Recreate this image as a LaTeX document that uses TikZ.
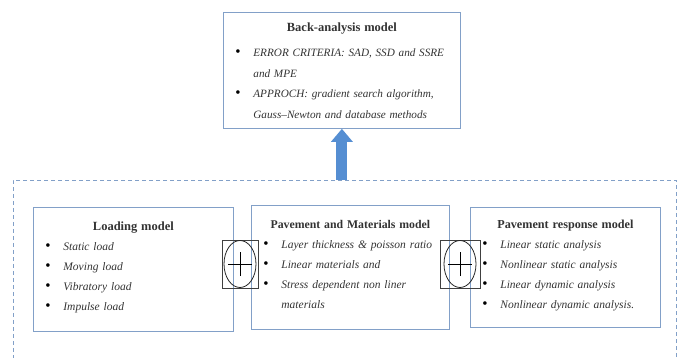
\documentclass[tikz,border=0pt]{standalone}
\usepackage{fontspec}
\setmainfont{Liberation Serif}
\usetikzlibrary{shapes.geometric,arrows.meta}
\definecolor{boxblue}{RGB}{130,160,200}
\definecolor{arrowblue}{RGB}{85,142,210}
\newcommand{\bul}[1]{\par\hangindent=18pt\hangafter=1\makebox[18pt][l]{\textcolor{black}{\fontsize{15}{20}\selectfont\textbullet}}\textit{#1}}
\newcommand{\ttl}[2][12.5]{\centering{\fontsize{#1}{20}\selectfont\textbf{#2}}\par\raggedright}
\tikzset{
    model/.style={draw=boxblue,thick,anchor=north west,align=left,inner xsep=12pt,
        font=\fontsize{11.5}{20}\selectfont,text=black!80},
    sumsq/.style={draw=black!75,minimum width=36pt,minimum height=48pt,inner sep=0pt},
    sumel/.style={draw=black!85,thick,ellipse,minimum width=32pt,minimum height=47pt,inner sep=0pt}
}
\begin{document}
\begin{tikzpicture}[x=1pt,y=-1pt]
    \useasboundingbox (0,0) rectangle (680,358);
    % dashed frame round the three models
    \node[draw=boxblue,thick,dash pattern=on 4pt off 3pt,minimum width=663pt,minimum height=200pt] (frame) at (344.5,280) {};
    % back-analysis model
    \node[model,font=\fontsize{11.2}{20.5}\selectfont,text width=213pt,minimum height=116pt] (back) at (223,12) {%
        \vspace{5pt}\ttl{Back-analysis model}
        \bul{ERROR CRITERIA: SAD, SSD and SSRE and MPE}
        \bul{APPROCH: gradient search algorithm, Gauss--Newton and database methods}\par};
    % the three models
    \node[model,text width=176pt,minimum height=124pt] (load) at (33,207) {%
        \ttl{Loading model}
        \bul{Static load}
        \bul{Moving load}
        \bul{Vibratory load}
        \bul{Impulse load}\par\vspace{4pt}};
    \node[model,text width=174pt,minimum height=124pt] (pave) at (251,205) {%
        \ttl[11.8]{Pavement and Materials model}
        \bul{Layer thickness \& poisson ratio}
        \bul{Linear materials and}
        \bul{Stress dependent non liner materials}\par\vspace{6pt}};
    \node[model,text width=166pt,minimum height=120pt] (resp) at (470,207) {%
        \ttl[12.2]{Pavement response model}
        \bul{Linear static analysis}
        \bul{Nonlinear static analysis}
        \bul{Linear dynamic analysis}
        \bul{Nonlinear dynamic analysis.}\par\vspace{4pt}};
    % summing junctions
    \node[sumsq] (sum1) at (240,264) {};
    \node[sumel] (el1) at (sum1) {};
    \draw[thick] ([xshift=-12pt]el1.center) -- ([xshift=12pt]el1.center);
    \draw[thick] ([yshift=-12pt]el1.center) -- ([yshift=12pt]el1.center);
    \node[sumsq,minimum width=40pt] (sum2) at (460,264) {};
    \node[sumel] (el2) at (sum2) {};
    \draw[thick] ([xshift=-12pt]el2.center) -- ([xshift=12pt]el2.center);
    \draw[thick] ([yshift=-12pt]el2.center) -- ([yshift=12pt]el2.center);
    % block arrow up to the back-analysis model
    \draw[arrowblue,line width=11pt,-{Triangle[length=13pt,width=21pt]}] (frame.north -| back.south) -- (back.south);
\end{tikzpicture}
\end{document}
